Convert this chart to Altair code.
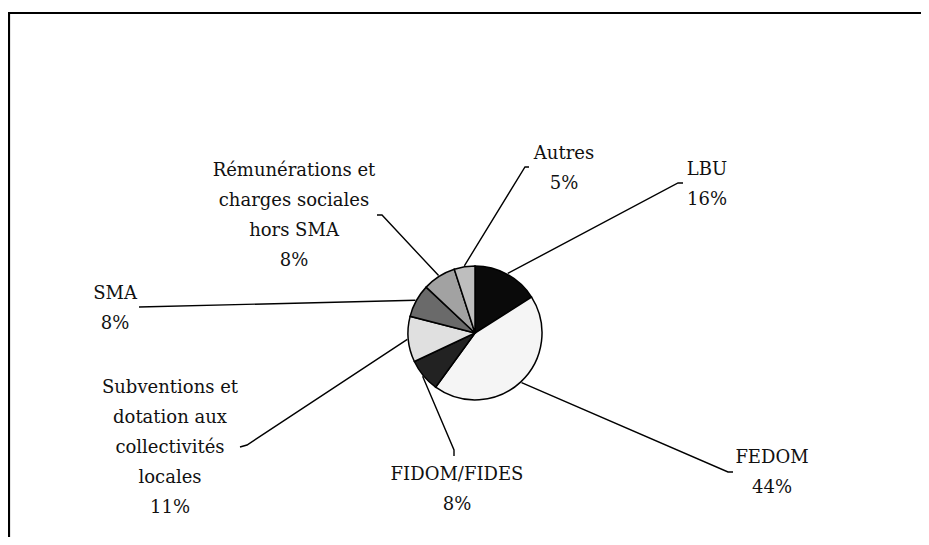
import math
import altair as alt
import pandas as pd

# ---------------- data ----------------
categories = ["LBU", "FEDOM", "FIDOM/FIDES",
              "Subventions et dotation aux collectivités locales",
              "SMA", "Rémunérations et charges sociales hors SMA", "Autres"]
shares = [16, 44, 8, 11, 8, 8, 5]
pct_labels = ["16%", "44%", "8%", "11%", "8%", "8%", "5%"]
label_lines = [["LBU"], ["FEDOM"], ["FIDOM/FIDES"],
               ["Subventions et", "dotation aux", "collectivités", "locales"],
               ["SMA"], ["Rémunérations et", "charges sociales", "hors SMA"],
               ["Autres"]]
colors = ["#0a0a0a", "#f5f5f5", "#222222", "#e0e0e0", "#6a6a6a", "#a2a2a2", "#bebebe"]

# ---------------- layout (page pixels) ----------------
W, H = 913, 529
OX, OY = 8, 8
CX, CY, R = 475, 333, 67
LINE_GAP = 30
FONT = "DejaVu Serif"
label_anchor = [(707, 168), (772, 456), (457, 473), (170, 386),
                (115, 292), (294, 169), (564, 152)]
leader_tail = [[(678, 183), (683, 183)],
               [(728, 472), (733, 472)],
               [(454, 450), (454, 456)],
               [(247, 445), (240, 447)],
               [(139, 307)],
               [(382, 215), (377, 215)],
               [(525, 167), (529, 167)]]

xs = alt.Scale(domain=[OX, OX + W], nice=False, zero=False)
ys = alt.Scale(domain=[OY, OY + H], nice=False, zero=False, reverse=True)

# pie
pie_df = pd.DataFrame({"cat": categories, "share": shares,
                       "idx": list(range(len(categories))),
                       "cx": CX, "cy": CY})
pie = alt.Chart(pie_df).mark_arc(outerRadius=R, stroke="black", strokeWidth=1.5).encode(
    theta=alt.Theta("share:Q", stack=True),
    order=alt.Order("idx:Q"),
    color=alt.Color("cat:N", scale=alt.Scale(domain=categories, range=colors), legend=None),
    x=alt.X("cx:Q", scale=xs, axis=None),
    y=alt.Y("cy:Q", scale=ys, axis=None),
)

# leader lines
rows = []
total = sum(shares)
cum = 0
for i, (c, s) in enumerate(zip(categories, shares)):
    mid = (cum + s / 2) / total * 2 * math.pi
    cum += s
    sx = CX + (R + 1) * math.sin(mid)
    sy = CY - (R + 1) * math.cos(mid)
    pts = [(sx, sy)] + leader_tail[i]
    for k, (px, py) in enumerate(pts):
        rows.append({"grp": c, "step": k, "x": px, "y": py})
lead_df = pd.DataFrame(rows)
leaders = alt.Chart(lead_df).mark_line(color="black", strokeWidth=1.4).encode(
    x=alt.X("x:Q", scale=xs, axis=None),
    y=alt.Y("y:Q", scale=ys, axis=None),
    detail="grp:N",
    order="step:Q",
)

# labels
trows = []
for i, c in enumerate(categories):
    ax, ay = label_anchor[i]
    lines = label_lines[i] + [pct_labels[i]]
    for k, t in enumerate(lines):
        trows.append({"t": t, "x": ax, "y": ay + k * LINE_GAP})
txt_df = pd.DataFrame(trows)
texts = alt.Chart(txt_df).mark_text(font=FONT, fontSize=18, align="center",
                                    baseline="middle", dy=2, color="#111111").encode(
    x=alt.X("x:Q", scale=xs, axis=None),
    y=alt.Y("y:Q", scale=ys, axis=None),
    text="t:N",
)

# frame
frame_df = pd.DataFrame({"x": [OX, 9], "x2": [OX + W, 9], "y": [13, 13], "y2": [13, OY + H]})
frame = alt.Chart(frame_df).mark_rule(color="black", strokeWidth=2.2).encode(
    x=alt.X("x:Q", scale=xs, axis=None), x2="x2:Q",
    y=alt.Y("y:Q", scale=ys, axis=None), y2="y2:Q",
)

chart = alt.layer(frame, leaders, pie, texts).properties(
    width=W, height=H, padding=0, autosize=alt.AutoSizeParams(type="none"),
    background="white",
).configure_view(stroke=None)

chart.save("out.html", embed_options={"renderer": "svg", "actions": False})
